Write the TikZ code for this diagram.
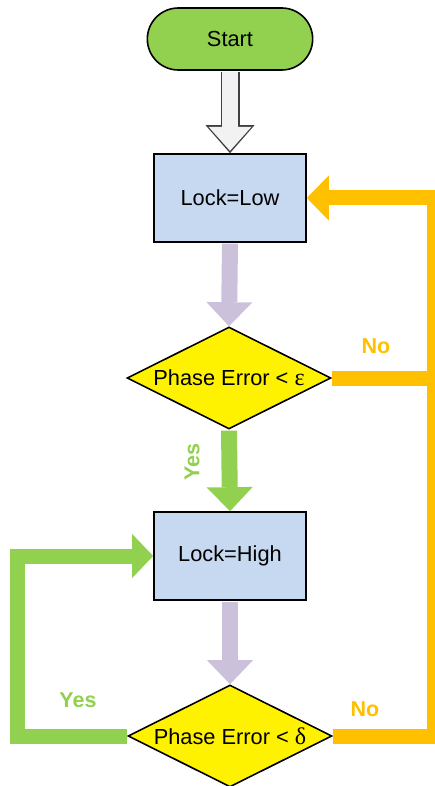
\documentclass[tikz,border=0pt]{standalone}
\usepackage{fontspec}
\setmainfont{Liberation Sans}
\newfontfamily\greekfont[Scale=1.1]{Liberation Serif}
\usetikzlibrary{shapes.geometric,shapes.misc,arrows.meta}

\definecolor{startgreen}{HTML}{92D050}
\definecolor{boxblue}{HTML}{C6D9F1}
\definecolor{lockorange}{HTML}{FFC000}
\definecolor{flowpurple}{HTML}{CCC1DA}
\definecolor{arrowgray}{HTML}{F2F2F2}

\begin{document}
\begin{tikzpicture}[x=1pt, y=-1pt, font=\fontsize{21.8}{26}\selectfont]
  \tikzstyle{blk}=[draw=black, fill=boxblue, line width=1.6pt,
                   minimum width=152pt, minimum height=88pt, inner sep=0pt]
  \tikzstyle{dec}=[diamond, draw=black, fill=yellow, line width=1.6pt, aspect=2,
                   minimum width=204pt, minimum height=102pt, inner sep=0pt]
  \tikzstyle{fat}=[line width=16pt, shorten <=0.8pt,
                   -{Triangle[width=46pt, length=24pt, line width=0pt]}]
  \tikzstyle{loopline}=[line width=15pt]
  \tikzstyle{lbl}=[font=\fontsize{21.5}{26}\selectfont\bfseries]

  \useasboundingbox (0,0) rectangle (435,786);

  % --- start and the two lock states ---
  \node[rounded rectangle, draw=black, fill=startgreen, line width=1.6pt,
        minimum width=172pt, minimum height=62pt] (start) at (230,39) {Start};
  \node[blk] (low)  at (230,198) {Lock=Low};
  \node[blk] (high) at (230,556) {Lock=High};

  % --- the two tests ---
  \node[dec] (dia1) at (229,378) {Phase Error < {\greekfont ε}};
  \node[dec] (dia2) at (230,736) {Phase Error < {\greekfont δ}};

  % --- corners of the loops ---
  \coordinate (east) at (434,0);
  \coordinate (west) at (17,0);

  % --- main flow ---
  \draw[line width=19pt, black!75, shorten <=0.8pt,
        -{Triangle[width=49pt, length=28pt, line width=0pt]}] (start.south) -- (low.north);
  \draw[line width=16pt, arrowgray, shorten <=0.8pt, shorten >=2.4pt,
        -{Triangle[width=43pt, length=24pt, line width=0pt]}] (start.south) -- (low.north);
  \draw[fat, flowpurple] (low.south) -- (dia1.north);
  \draw[fat, startgreen] (dia1.south) -- (high.north);
  \draw[fat, flowpurple] (high.south) -- (dia2.north);

  % --- no: back to Lock=Low ---
  \draw[loopline, lockorange] (dia1.east) -- (dia1.east -| east);
  \draw[loopline, lockorange, -{Triangle[width=45pt, length=22pt, line width=0pt]}]
    (dia2.east) -- (dia2.east -| east) -- (low.east -| east) -- (low.east);

  % --- yes: stay in Lock=High ---
  \draw[loopline, startgreen, -{Triangle[width=44pt, length=21pt, line width=0pt]}]
    (dia2.west) -- (dia2.west -| west) -- (high.west -| west) -- (high.west);

  % --- labels ---
  \node[lbl, text=lockorange] (no1) at (376,346) {No};
  \node[lbl, text=lockorange] (no2) at (365,709) {No};
  \node[lbl, text=startgreen, rotate=90] (yes1) at (192,462) {Yes};
  \node[lbl, text=startgreen] (yes2) at (78,700) {Yes};
\end{tikzpicture}
\end{document}
